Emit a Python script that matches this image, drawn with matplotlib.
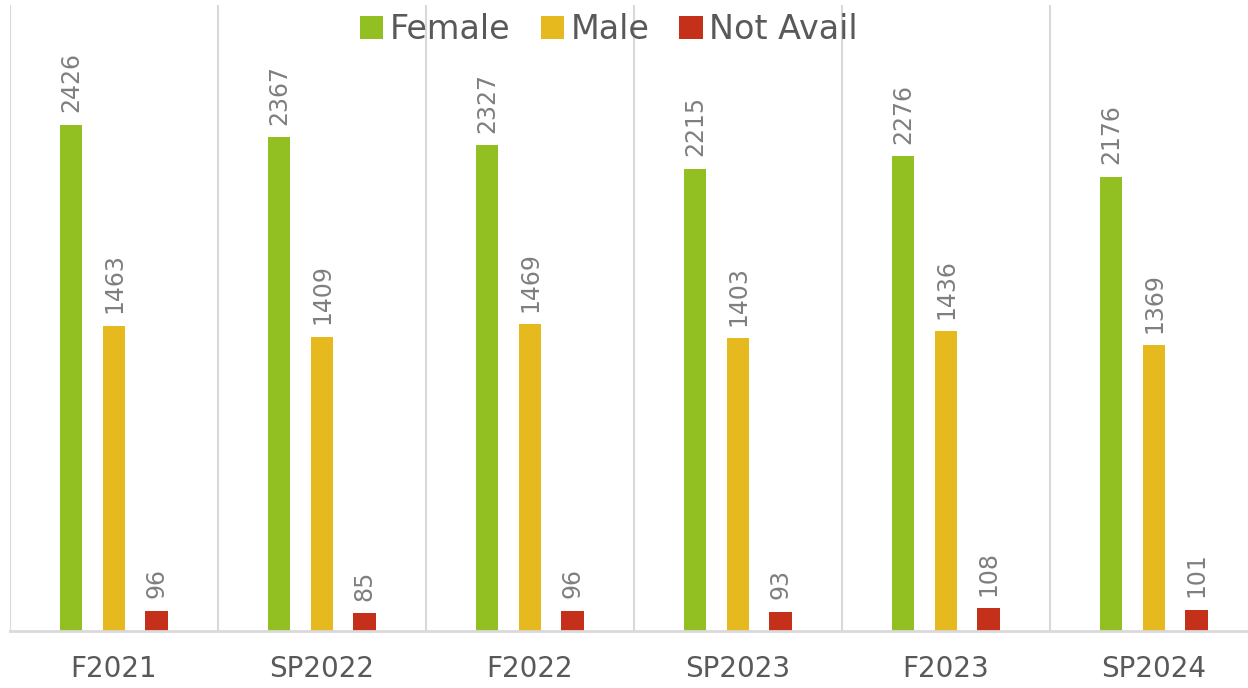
import matplotlib.pyplot as plt
import numpy as np

terms = ["F2021", "SP2022", "F2022", "SP2023", "F2023", "SP2024"]
female = [2426, 2367, 2327, 2215, 2276, 2176]
male = [1463, 1409, 1469, 1403, 1436, 1369]
not_avail = [96, 85, 96, 93, 108, 101]

series = [("Female", female, "#92c023"),
          ("Male", male, "#e6b91e"),
          ("Not Avail", not_avail, "#c5301a")]

fig = plt.figure(figsize=(12.48, 6.88), dpi=100)
ax = fig.add_axes([10 / 1248, 57 / 688, 1248 / 1248, 626 / 688])

x = np.arange(len(terms))
width = 0.11
offsets = [-0.207, 0, 0.203]
for (name, vals, color), off in zip(series, offsets):
    bars = ax.bar(x + off, vals, width=width, color=color, label=name)
    for b, v in zip(bars, vals):
        ax.annotate(str(v), (b.get_x() + b.get_width() / 2, v),
                    xytext=(0, 9), textcoords="offset points",
                    rotation=90, ha="center", va="bottom",
                    fontsize=17, color="#7f7f7f")

ax.set_xlim(-0.5, len(terms) - 0.5)
ax.set_ylim(0, 3000)
ax.set_yticks([])
ax.set_xticks(x)
ax.set_xticklabels(terms, fontsize=20, color="#595959")
ax.tick_params(axis="x", length=0, pad=17)
for i in range(len(terms) + 1):
    ax.axvline(i - 0.5, color="#d9d9d9", lw=1.5, zorder=0)
for s in ["top", "right", "left"]:
    ax.spines[s].set_visible(False)
ax.spines["bottom"].set_color("#d9d9d9")
ax.spines["bottom"].set_linewidth(2)

leg = ax.legend(loc="upper center", bbox_to_anchor=(0.48, 1.035), ncol=3,
                frameon=False, fontsize=24, handlelength=0.7, handleheight=0.7,
                handletextpad=0.2, columnspacing=0.9, labelcolor="#595959")

fig.savefig("out.png", dpi=100)
